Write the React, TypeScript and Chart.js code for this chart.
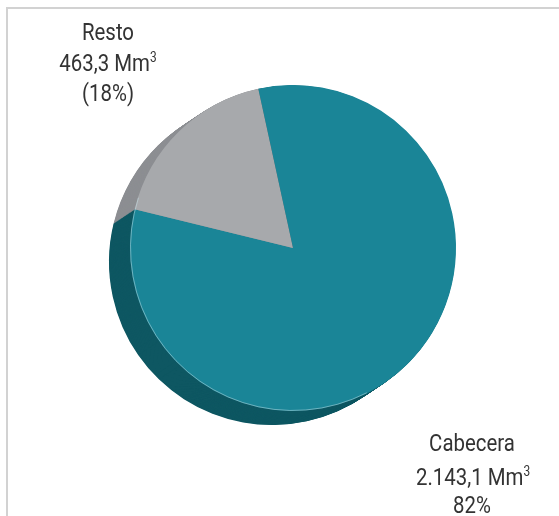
import React, { useEffect, useRef } from "react";
import { Chart, registerables } from "chart.js";

Chart.register(...registerables);

const categories = ["Cabecera", "Resto"];
const values = [2143.1, 463.3];
const valueLabels = ["2.143,1", "463,3"];
const percentLabels = ["82%", "(18%)"];
const colors = ["#1a8597", "#a7a9ac"];
const sideColors = ["#0e5762", "#8c8e92"];

const extrudePlugin = {
  id: "extrude",
  beforeDatasetsDraw(chart: any) {
    const meta = chart.getDatasetMeta(0);
    const ctx = chart.ctx;
    const dx = -21;
    const dy = 14;
    const steps = 40;
    ctx.save();
    for (let s = steps; s >= 1; s--) {
      const ox = (dx * s) / steps;
      const oy = (dy * s) / steps;
      meta.data.forEach((arc: any, i: number) => {
        const p = arc.getProps(["x", "y", "startAngle", "endAngle", "outerRadius"], true);
        ctx.beginPath();
        ctx.moveTo(p.x + ox, p.y + oy);
        ctx.arc(p.x + ox, p.y + oy, p.outerRadius, p.startAngle, p.endAngle);
        ctx.closePath();
        ctx.fillStyle = sideColors[i];
        ctx.fill();
      });
    }
    ctx.restore();
  },
  afterDatasetsDraw(chart: any) {
    const meta = chart.getDatasetMeta(0);
    const ctx = chart.ctx;
    const a = meta.data[0];
    if (!a) return;
    const p = a.getProps(["x", "y", "outerRadius"], true);
    ctx.save();
    ctx.beginPath();
    ctx.arc(p.x, p.y, p.outerRadius - 0.5, Math.PI * 0.35, Math.PI * 1.1);
    ctx.strokeStyle = "rgba(200,230,235,0.6)";
    ctx.lineWidth = 0.8;
    ctx.stroke();
    ctx.restore();
  },
};

const fontFamily = 'Roboto, "Liberation Sans", sans-serif';

function Line({ x, y, children }: { x: number; y: number; children: React.ReactNode }) {
  return (
    <div
      style={{
        position: "absolute",
        left: x,
        top: y,
        transform: "translate(-50%, -50%) scaleX(0.85)",
        whiteSpace: "nowrap",
        fontFamily,
        fontWeight: 400,
        fontSize: 24,
        lineHeight: 1,
        color: "#333",
      }}
    >
      {children}
    </div>
  );
}

const supStyle: React.CSSProperties = { fontSize: 14, verticalAlign: "top", position: "relative", top: -1 };

export default function App() {
  const ref = useRef<HTMLCanvasElement>(null);
  useEffect(() => {
    if (!ref.current) return;
    const chart = new Chart(ref.current, {
      type: "pie",
      data: {
        labels: categories,
        datasets: [
          {
            data: values,
            backgroundColor: colors,
            borderWidth: 0,
            hoverOffset: 0,
            offset: 0,
          },
        ],
      },
      options: {
        animation: false,
        responsive: false,
        rotation: -12.3,
        layout: { padding: { left: 130, right: 103, top: 85, bottom: 105 } },
        plugins: { legend: { display: false }, tooltip: { enabled: false } },
      },
      plugins: [extrudePlugin],
    });
    return () => chart.destroy();
  }, []);

  return (
    <div style={{ position: "fixed", left: 0, top: 0, width: 559, height: 516, background: "#fff", overflow: "hidden" }}>
      <div
        style={{
          position: "absolute",
          left: 6,
          top: 7,
          width: 600,
          height: 600,
          borderLeft: "2px solid #d2d2d2",
          borderTop: "2px solid #d2d2d2",
        }}
      />
      <canvas ref={ref} width={559} height={516} style={{ position: "absolute", left: 0, top: 0 }} />
      <Line x={108} y={32}>{categories[1]}</Line>
      <Line x={108} y={63}>
        {valueLabels[1]} Mm<sup style={supStyle}>3</sup>
      </Line>
      <Line x={108} y={93}>{percentLabels[1]}</Line>
      <Line x={472} y={443}>{categories[0]}</Line>
      <Line x={473} y={477}>
        {valueLabels[0]} Mm<sup style={supStyle}>3</sup>
      </Line>
      <Line x={472} y={505}>{percentLabels[0]}</Line>
    </div>
  );
}
